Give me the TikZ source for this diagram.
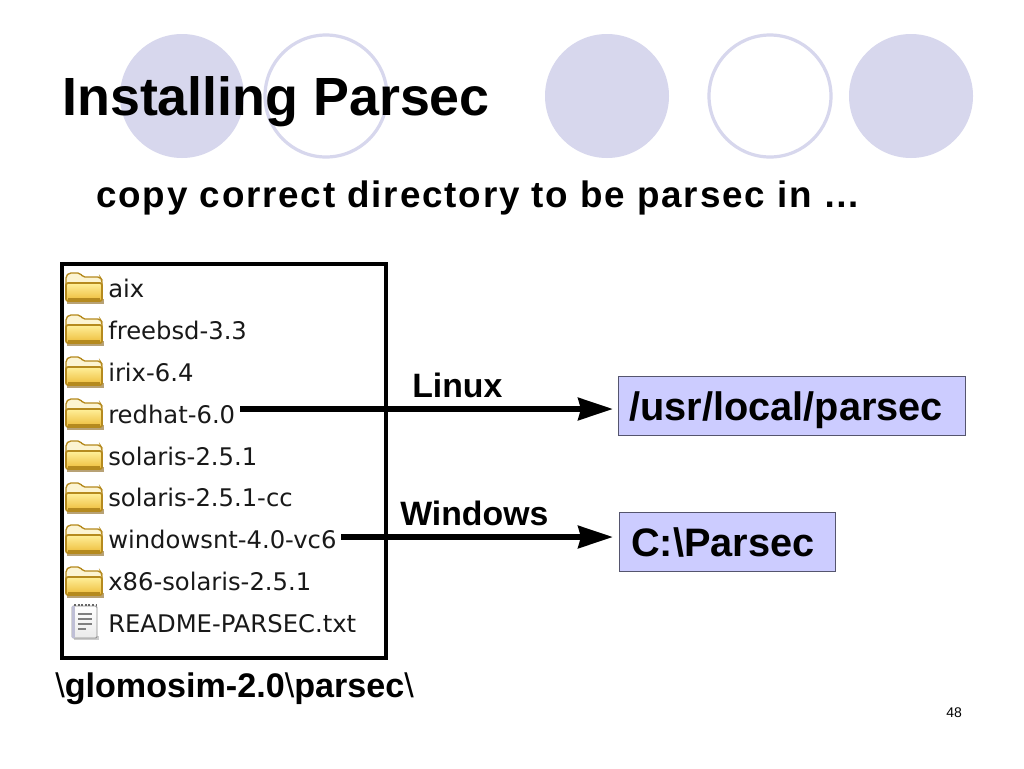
\documentclass[tikz,border=0pt]{standalone}
\usepackage{fontspec}
\setmainfont{Liberation Sans}
\newfontfamily\filefont{DejaVu Sans}
\usetikzlibrary{arrows.meta}
\definecolor{discfill}{HTML}{D7D7ED}
\definecolor{boxfill}{HTML}{CCCCFF}
\definecolor{boxline}{HTML}{55556E}
\definecolor{foldline}{HTML}{B58A1E}
\definecolor{foldtop}{HTML}{FFF09A}
\definecolor{foldbot}{HTML}{EDBB38}
\definecolor{foldpale}{HTML}{FCF4D2}
\definecolor{foldshade}{HTML}{9A7A3A}
\tikzset{
  disc/.style={fill=discfill,draw=none},
  ring/.style={draw=discfill,line width=2.4pt,fill=white},
  filelabel/.style={anchor=base west,inner sep=0pt,font=\filefont\fontsize{18.2}{20}\selectfont,text=black!90},
  boldtext/.style={anchor=base west,inner sep=0pt,font=\bfseries\fontsize{25.35}{28}\selectfont},
  targetbox/.style={fill=boxfill,draw=boxline,line width=0.7pt,inner sep=0pt,outer sep=0pt,anchor=north west},
  targettext/.style={anchor=base west,inner sep=0pt,font=\bfseries\fontsize{29.8}{32}\selectfont},
  bigarrow/.style={line width=4.5pt,-{Stealth[length=26pt,width=16.5pt,inset=2pt]}},
  foldericon/.pic={
    \fill[foldshade!70] (2,27) rectangle (39,32);
    \draw[foldline,fill=foldpale,line width=1pt,rounded corners=1.5pt]
      (1,28) -- (1,4) -- (4,1) -- (15,1) -- (18,5) -- (35,5) -- (37,8) -- (37,28) -- cycle;
    \draw[foldline,top color=foldtop,bottom color=foldbot,line width=1.3pt,rounded corners=1.5pt]
      (1,11) -- (37,11) -- (37,29) -- (1,29) -- cycle;
    \draw[foldline,line width=1.3pt] (3,27) -- (35,27);
  },
  noteicon/.pic={
    \fill[black!20] (3,33) rectangle (28,37);
    \draw[black!45,top color=white,bottom color=black!8,line width=0.7pt,rounded corners=1pt] (1,3) rectangle (26,35);
    \fill[blue!35!black!25] (1,3) rectangle (4,35);
    \draw[black!60,line width=1.5pt,dash pattern=on 1.5pt off 1.2pt] (3,2) -- (25,2);
    \draw[black!50,line width=1.3pt] (7,11) -- (21,11) (7,16) -- (21,16) (7,21) -- (21,21) (7,26) -- (15,26);
  }
}
\begin{document}
\begin{tikzpicture}[x=0.75pt,y=-0.75pt]
\useasboundingbox (0,0) rectangle (1024,768);
\fill[white] (0,0) rectangle (1024,768);
\path[disc] (182,96) circle[radius=62];
\path[ring] (326,96) circle[radius=61];
\path[disc] (607,96) circle[radius=62];
\path[ring] (770,96) circle[radius=61];
\path[disc] (911,96) circle[radius=62];
\node[anchor=base west,inner sep=0pt,font=\bfseries\fontsize{40.35}{44}\selectfont] (title) at (62,115) {Installing Parsec};
\node[anchor=base west,inner sep=0pt,font=\bfseries\fontsize{27.6}{30}\selectfont\addfontfeature{LetterSpace=5}] (subtitle) at (96,207) {copy correct directory to be parsec in …};
\node[draw=black,line width=3pt,inner sep=0pt,outer sep=0pt,anchor=north west,minimum width=243pt,minimum height=295.5pt] (frame) at (61.5,263.5) {};
\pic at (65,272) {foldericon};
\pic at (65,314) {foldericon};
\pic at (65,356) {foldericon};
\pic at (65,398) {foldericon};
\pic at (65,440) {foldericon};
\pic at (65,482) {foldericon};
\pic at (65,524) {foldericon};
\pic at (65,566) {foldericon};
\pic at (71,603) {noteicon};
\node[filelabel] (aix) at (108,297) {aix};
\node[filelabel] (freebsd) at (108,339) {freebsd-3.3};
\node[filelabel] (irix) at (108,381) {irix-6.4};
\node[filelabel] (redhat) at (108,423) {redhat-6.0};
\node[filelabel] (solaris) at (108,465) {solaris-2.5.1};
\node[filelabel] (solariscc) at (108,506) {solaris-2.5.1-cc};
\node[filelabel] (windowsnt) at (108,548) {windowsnt-4.0-vc6};
\node[filelabel] (xsolaris) at (108,590) {x86-solaris-2.5.1};
\node[filelabel] (readme) at (108,632) {README-PARSEC.txt};
\node[anchor=base west,inner sep=0pt,font=\fontsize{25.6}{28}\selectfont] (path) at (55,697) {\textbackslash\textbf{glomosim-2.0}\textbackslash\textbf{parsec}\textbackslash};
\node[targetbox,minimum width=260.25pt,minimum height=44.25pt] (usrbox) at (618.5,376.5) {};
\node[targetbox,minimum width=162pt,minimum height=44.25pt] (cbox) at (619.5,512.5) {};
\node[targettext] (usrtext) at (629,420) {/usr/local/parsec};
\node[targettext] (ctext) at (631,556) {C:\textbackslash Parsec};
\coordinate (linuxtail) at (240,409);
\coordinate (linuxtip) at (613,409);
\coordinate (wintail) at (341,537);
\coordinate (wintip) at (613,537);
\draw[bigarrow] (linuxtail) -- (linuxtip);
\draw[bigarrow] (wintail) -- (wintip);
\node[boldtext] (linux) at (412,397) {Linux};
\node[boldtext] (windows) at (400,525) {Windows};
\node[anchor=base west,inner sep=0pt,font=\fontsize{10.5}{12}\selectfont] (pageno) at (946,717) {48};
\end{tikzpicture}
\end{document}
